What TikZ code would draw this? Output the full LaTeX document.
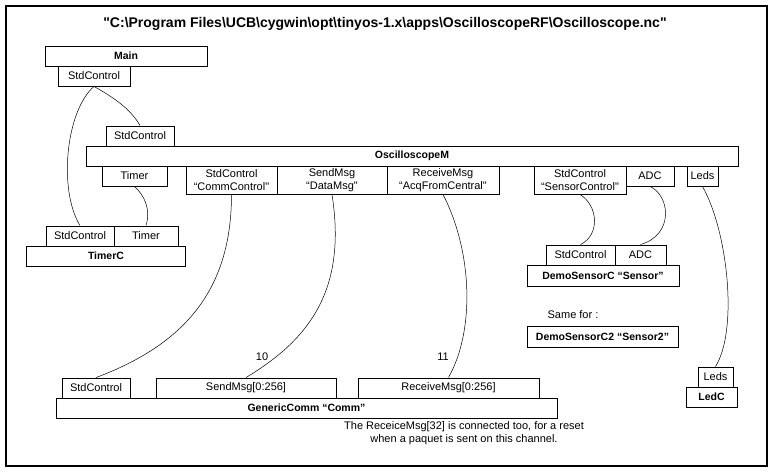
\documentclass[tikz,border=0pt]{standalone}
\usepackage{fontspec}
\setmainfont{Liberation Sans}
\newfontfamily\arialraw{Liberation Sans}
\begin{document}
\begin{tikzpicture}[x=1pt,y=-1pt,
  box/.style={draw, line width=0.9pt, inner sep=0pt, align=center, font=\arialraw\fontsize{11}{13}\selectfont},
  bbox/.style={box, font=\arialraw\fontsize{10.5}{12}\selectfont\bfseries},
  wire/.style={line width=0.5pt},
  lbl/.style={inner sep=0pt, align=center, font=\arialraw\fontsize{11}{13}\selectfont}]
\useasboundingbox (0,0) rectangle (776,472);
\draw[line width=1.1pt] (6,6) rectangle (767,466);
\node[inner sep=0pt, font=\arialraw\fontsize{14}{16}\selectfont\bfseries] (title) at (385,24)
  {"C:\textbackslash Program Files\textbackslash UCB\textbackslash cygwin\textbackslash opt\textbackslash tinyos-1.x\textbackslash apps\textbackslash OscilloscopeRF\textbackslash Oscilloscope.nc"};
% Main
\node[bbox, minimum width=162pt, minimum height=20pt] (main) at (126,56) {Main};
\node[box, minimum width=72pt, minimum height=20pt] (mainsc) at (94,76) {StdControl};
% OscilloscopeM
\node[box, minimum width=68pt, minimum height=20pt] (oscsc) at (140,136) {StdControl};
\node[bbox, minimum width=652pt, minimum height=20pt] (osc) at (412,156) {OscilloscopeM};
\node[box, minimum width=65pt, minimum height=20pt] (osctimer) at (134.5,176) {Timer};
\node[box, minimum width=91pt, minimum height=28pt] (osccc) at (231.5,180) {StdControl\\“CommControl"};
\node[box, minimum width=110pt, minimum height=28pt] (oscsend) at (332,180) {SendMsg\\“DataMsg"};
\node[box, minimum width=112pt, minimum height=28pt] (oscrecv) at (443,180) {ReceiveMsg\\“AcqFromCentral"};
\node[box, minimum width=92pt, minimum height=28pt] (oscsens) at (580,180) {StdControl\\“SensorControl"};
\node[box, minimum width=48pt, minimum height=20pt] (oscadc) at (650,176) {ADC};
\node[box, minimum width=31pt, minimum height=20pt] (oscleds) at (702.5,176) {Leds};
% TimerC
\node[box, minimum width=68pt, minimum height=20pt] (tcsc) at (80,236) {StdControl};
\node[box, minimum width=64pt, minimum height=20pt] (tctimer) at (146,236) {Timer};
\node[bbox, minimum width=159pt, minimum height=20pt] (timerc) at (106,256) {TimerC};
% DemoSensorC
\node[box, minimum width=69pt, minimum height=20pt] (dssc) at (580.5,255) {StdControl};
\node[box, minimum width=51pt, minimum height=20pt] (dsadc) at (640.5,255) {ADC};
\node[bbox, minimum width=152pt, minimum height=21pt] (ds) at (603,275.5) {DemoSensorC “Sensor”};
\node[lbl] (same) at (573,315) {Same for :};
\node[bbox, minimum width=151pt, minimum height=21pt] (ds2) at (602.5,336.5) {DemoSensorC2 “Sensor2”};
% LedC
\node[box, minimum width=35pt, minimum height=20pt] (ledsport) at (715.5,377) {Leds};
\node[bbox, minimum width=51pt, minimum height=20pt] (ledc) at (711.5,397) {LedC};
% GenericComm
\node[box, minimum width=68pt, minimum height=20pt] (gcsc) at (96,388) {StdControl};
\node[box, minimum width=180pt, minimum height=20pt] (gcsend) at (246,388) {SendMsg[0:256]};
\node[box, minimum width=181pt, minimum height=20pt] (gcrecv) at (448.5,388) {ReceiveMsg[0:256]};
\node[bbox, minimum width=501pt, minimum height=20pt] (gc) at (306.5,408) {GenericComm “Comm”};
\node[lbl] (note) at (464,433.5) {The ReceiceMsg[32] is connected too, for a reset\\when a paquet is sent on this channel.};
\node[lbl] (l10) at (262,357) {10};
\node[lbl] (l11) at (443,357) {11};
% wires
\draw[wire] (mainsc.south) .. controls +(-28,24) and +(-22,-36) .. (tcsc.north);
\draw[wire] (mainsc.south) .. controls +(16,9) and +(-10,-18) .. (oscsc.north);
\draw[wire] (osctimer.south) .. controls +(10,9) and +(5,-16) .. (tctimer.north);
\draw[wire] (osccc.south) .. controls +(0,96) and +(88,-33) .. (gcsc.north);
\draw[wire] (oscsend.south) .. controls +(15,96) and +(63,-38) .. (gcsend.north);
\draw[wire] (oscrecv.south) .. controls +(29,56) and +(27,-48) .. (gcrecv.north);
\draw[wire] (oscsens.south) .. controls +(18,11) and +(20,-10) .. (dssc.north);
\draw[wire] (oscadc.south) .. controls +(20,9) and +(34,-10) .. (dsadc.north);
\draw[wire] (oscleds.south) .. controls +(25,44) and +(23,-37) .. (ledsport.north);
\end{tikzpicture}
\end{document}
